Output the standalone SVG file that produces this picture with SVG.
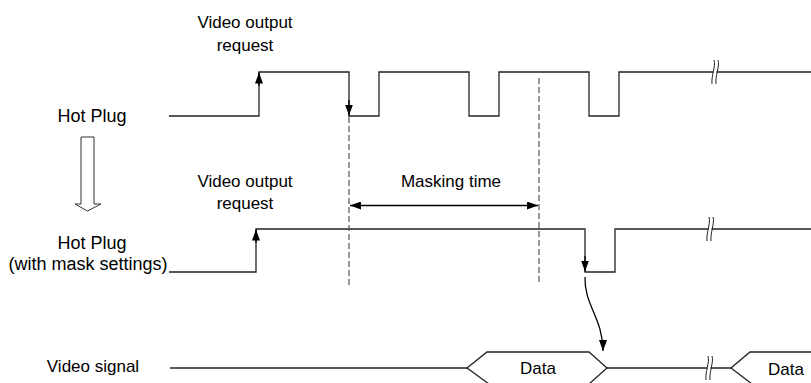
<svg xmlns="http://www.w3.org/2000/svg" width="811" height="383" viewBox="0 0 811 383">
<style>
.t{font-family:"Liberation Sans",Arial,sans-serif;font-size:17px;fill:#000;text-anchor:middle}
.l{font-size:18px}
.s{fill:none;stroke:#222;stroke-width:1.3}
.d{fill:none;stroke:#555;stroke-width:1.2;stroke-dasharray:6,3}
.b{fill:none;stroke:#222;stroke-width:1}
</style>
<defs>
<marker id="ah" viewBox="0 0 11 8" refX="11" refY="4" markerWidth="11" markerHeight="8" markerUnits="userSpaceOnUse" orient="auto">
<path d="M0,0 L11,4 L0,8 Z" fill="#000"/>
</marker>
<marker id="ahs" viewBox="0 0 11 8" refX="0" refY="4" markerWidth="11" markerHeight="8" markerUnits="userSpaceOnUse" orient="auto">
<path d="M11,0 L0,4 L11,8 Z" fill="#000"/>
</marker>
</defs>
<rect width="811" height="383" fill="#fff"/>
<g id="labels">
<text class="t" x="245" y="28">Video output</text>
<text class="t" x="245" y="51">request</text>
<text class="t l" x="92" y="122">Hot Plug</text>
<text class="t" x="245" y="187">Video output</text>
<text class="t" x="245" y="209">request</text>
<text class="t l" x="92" y="249">Hot Plug</text>
<text class="t l" x="88" y="270">(with mask settings)</text>
<text class="t" x="451" y="187">Masking time</text>
<text class="t" x="93" y="372">Video signal</text>
</g>
<g id="hotplug">
<path class="s" d="M169,116 H259 V72 H349 V116 H379 V72 H469 V116 H499 V72 H589 V116 H619 V72 H713.5 M716.5,72 H811"/>
<path class="b" d="M714,60 C716,66 711,76 712,84 M718,60 C720,66 715,76 716,84"/>
</g>
<g id="hotplug-mask">
<path class="s" d="M169,272 H256 V229 H585 V272 H615 V229 H708.5 M711.5,229 H811"/>
<path class="b" d="M709,217 C711,223 706,233 707,241 M713,217 C715,223 710,233 711,241"/>
</g>
<g id="video-signal">
<path class="s" d="M170,368 H467 M607,368 H707.5 M710.5,368 H731"/>
<path class="s" d="M489,384 L467,368 L487,352 H589 L607,368 L589,384"/>
<path class="s" d="M752,384 L731,368 L750,352 H811"/>
<path class="b" d="M708,356 C710,362 705,372 706,380 M712,356 C714,362 709,372 710,380"/>
<text class="t" x="538" y="374">Data</text>
<text class="t" x="786" y="375">Data</text>
</g>
<g id="block-arrow">
<polygon points="81,137 94,137 94,204 101,204 87.5,211 75,204 81,204" fill="#fff" stroke="#333" stroke-width="1"/>
</g>
<g id="connectors">
<line class="d" x1="349" y1="117" x2="349" y2="286"/>
<line class="d" x1="539" y1="78" x2="539" y2="284"/>
<line x1="259" y1="86" x2="259" y2="72.5" stroke="#000" stroke-width="1.3" marker-end="url(#ah)"/>
<line x1="349" y1="100" x2="349" y2="115.5" stroke="#000" stroke-width="1.3" marker-end="url(#ah)"/>
<line x1="256" y1="243" x2="256" y2="229.5" stroke="#000" stroke-width="1.3" marker-end="url(#ah)"/>
<line x1="585" y1="256" x2="585" y2="271.5" stroke="#000" stroke-width="1.3" marker-end="url(#ah)"/>
<line x1="350" y1="205.5" x2="538" y2="205.5" stroke="#000" stroke-width="1.3" marker-start="url(#ahs)" marker-end="url(#ah)"/>
<path d="M585,277 C584,305 603,318 603,351" fill="none" stroke="#000" stroke-width="1.3" marker-end="url(#ah)"/>
</g>
</svg>
